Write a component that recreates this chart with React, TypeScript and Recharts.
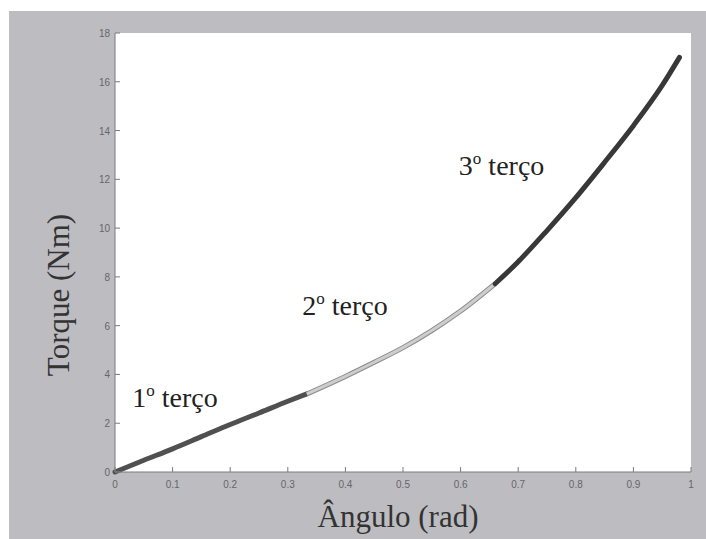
import React from "react";
import { LineChart, Line, XAxis, YAxis, ReferenceDot } from "recharts";

const angle = [0, 0.05, 0.1, 0.15, 0.2, 0.25, 0.3, 0.333, 0.4, 0.45, 0.5, 0.55, 0.6, 0.66, 0.7, 0.75, 0.8, 0.85, 0.9, 0.95, 0.98];
const torque = [0, 0.48, 0.95, 1.45, 1.95, 2.42, 2.9, 3.2, 3.92, 4.5, 5.1, 5.8, 6.6, 7.72, 8.62, 9.9, 11.25, 12.7, 14.2, 15.85, 17.0];
const thirdBounds = [0, 0.333, 0.66, 0.98];
const xTicks = [0, 0.1, 0.2, 0.3, 0.4, 0.5, 0.6, 0.7, 0.8, 0.9, 1];
const yTicks = [0, 2, 4, 6, 8, 10, 12, 14, 16, 18];
const thirdLabels = ["1", "2", "3"];
const labelAnchors = [
  { x: 0.03, y: 2.67 },
  { x: 0.325, y: 6.44 },
  { x: 0.597, y: 12.18 },
];

const table = angle.map((a, i) => ({
  angle: a,
  first: a <= thirdBounds[1] ? torque[i] : null,
  second: a >= thirdBounds[1] && a <= thirdBounds[2] ? torque[i] : null,
  third: a >= thirdBounds[2] ? torque[i] : null,
}));

const TICK_FONT = "'Liberation Sans', Arial, sans-serif";
const SERIF = "'Liberation Serif', 'Times New Roman', serif";
const FRAME = "#7a7a7a";

const fmtX = (v: number) => (v === 0 ? "0" : v === 1 ? "1" : String(v));

const BottomTick = (p: any) => (
  <g>
    <line x1={p.x} y1={p.y} x2={p.x} y2={p.y - 5} stroke={FRAME} />
    <text x={p.x} y={p.y + 16} textAnchor="middle" fontSize={10} fill="#666" fontFamily={TICK_FONT}>
      {fmtX(p.payload.value)}
    </text>
  </g>
);
const TopTick = (p: any) => <line x1={p.x} y1={p.y} x2={p.x} y2={p.y + 5} stroke={FRAME} />;
const LeftTick = (p: any) => (
  <g>
    <line x1={p.x} y1={p.y} x2={p.x + 5} y2={p.y} stroke={FRAME} />
    <text x={p.x - 5} y={p.y + 4} textAnchor="end" fontSize={10} fill="#666" fontFamily={TICK_FONT}>
      {p.payload.value}
    </text>
  </g>
);
const RightTick = (p: any) => <line x1={p.x} y1={p.y} x2={p.x - 5} y2={p.y} stroke={FRAME} />;

const XTitle = (props: any) => {
  const vb = props.viewBox;
  return (
    <text x={vb.x + vb.width / 2 - 5} y={vb.y + 55} textAnchor="middle" fontSize={31} fill="#333" fontFamily={SERIF}>
      Ângulo (rad)
    </text>
  );
};
const YTitle = (props: any) => {
  const vb = props.viewBox;
  const x = vb.x + 60;
  const y = 284;
  return (
    <text x={x} y={y} transform={`rotate(-90, ${x}, ${y})`} textAnchor="middle" fontSize={31} fill="#333" fontFamily={SERIF}>
      Torque (Nm)
    </text>
  );
};

const ThirdLabel = (n: string) => (props: any) => (
  <text x={props.cx} y={props.cy} fontSize={28} fill="#222" fontFamily={SERIF}>
    {n}
    <tspan fontSize={17} dy={-11}>o</tspan>
    <tspan dy={11}> terço</tspan>
  </text>
);

export default function App() {
  return (
    <div style={{ position: "fixed", left: 9, top: 11, right: 0, bottom: 0, background: "#bdbdc1", overflow: "hidden" }}>
      <LineChart
        width={697}
        height={528}
        data={table}
        margin={{ top: 22, right: 15, left: 0, bottom: 0 }}
      >
        <rect x={106} y={22} width={576} height={439} fill="#ffffff" />
        <XAxis
          xAxisId="bottom"
          dataKey="angle"
          type="number"
          domain={[0, 1]}
          ticks={xTicks}
          interval={0}
          height={67}
          tickSize={0}
          tickMargin={0}
          tickLine={false}
          tick={<BottomTick />}
          axisLine={{ stroke: FRAME }}
          label={<XTitle />}
        />
        <XAxis
          xAxisId="top"
          orientation="top"
          dataKey="angle"
          type="number"
          domain={[0, 1]}
          ticks={xTicks}
          interval={0}
          height={0}
          tickSize={0}
          tickMargin={0}
          tickLine={false}
          tick={<TopTick />}
          axisLine={{ stroke: FRAME }}
        />
        <YAxis
          yAxisId="left"
          type="number"
          domain={[0, 18]}
          ticks={yTicks}
          interval={0}
          width={106}
          tickSize={0}
          tickMargin={0}
          tickLine={false}
          tick={<LeftTick />}
          axisLine={{ stroke: FRAME }}
          label={<YTitle />}
        />
        <YAxis
          yAxisId="right"
          orientation="right"
          type="number"
          domain={[0, 18]}
          ticks={yTicks}
          interval={0}
          width={0}
          tickSize={0}
          tickMargin={0}
          tickLine={false}
          tick={<RightTick />}
          axisLine={{ stroke: FRAME }}
        />
        <Line xAxisId="bottom" yAxisId="left" type="monotone" dataKey="first" stroke="#505050" strokeWidth={5} strokeLinecap="round" dot={false} isAnimationActive={false} />
        <Line xAxisId="bottom" yAxisId="left" type="monotone" dataKey="second" stroke="#8c8c8c" strokeWidth={5} dot={false} isAnimationActive={false} />
        <Line xAxisId="bottom" yAxisId="left" type="monotone" dataKey="second" stroke="#cdcdcd" strokeWidth={3} dot={false} isAnimationActive={false} />
        <Line xAxisId="bottom" yAxisId="left" type="monotone" dataKey="third" stroke="#383838" strokeWidth={5} strokeLinecap="round" dot={false} isAnimationActive={false} />
        {labelAnchors.map((a, i) => (
          <ReferenceDot
            key={i}
            xAxisId="bottom"
            yAxisId="left"
            x={a.x}
            y={a.y}
            r={0}
            shape={ThirdLabel(thirdLabels[i])}
          />
        ))}
      </LineChart>
    </div>
  );
}
